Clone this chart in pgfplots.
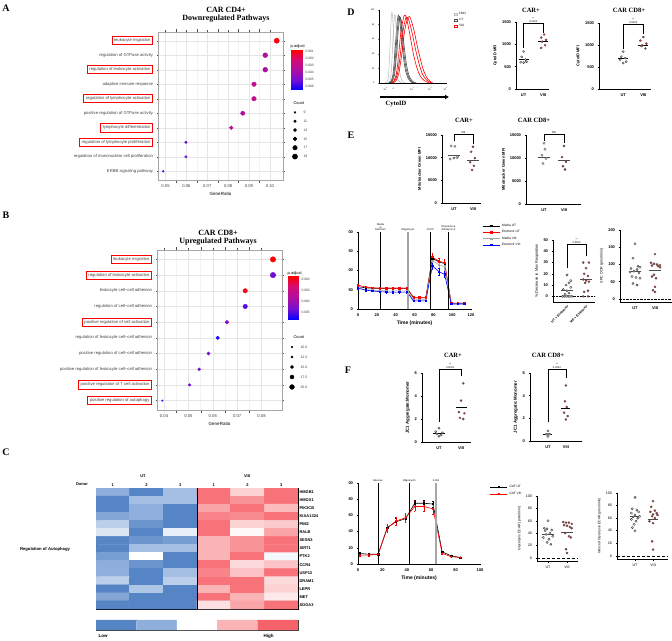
\documentclass[border=0pt]{standalone}
\usepackage{pgfplots}
\pgfplotsset{compat=1.18}
\usepackage{fontspec}
\setmainfont{Liberation Sans}
\newfontfamily\tnr{Liberation Serif}
\usetikzlibrary{arrows.meta}
\newcommand\fs[1]{\fontsize{#1}{#1}\selectfont}
\setlength{\fboxsep}{1.8pt}
\setlength{\fboxrule}{0.8pt}
\newcommand\rb[1]{\fcolorbox{red}{white}{#1}}
\definecolor{hb1}{RGB}{85,133,197}
\definecolor{hb2}{RGB}{142,174,220}
\definecolor{hr1}{RGB}{250,180,182}
\definecolor{hr2}{RGB}{246,98,106}
\definecolor{v8red}{RGB}{200,50,55}
% p.adjust colours (red = low, blue = high)
\definecolor{pa01}{RGB}{253,0,16}
\definecolor{pa37}{RGB}{193,15,140}
\definecolor{pa41}{RGB}{186,15,149}
\definecolor{pa46}{RGB}{176,15,160}
\definecolor{pa48}{RGB}{172,15,164}
\definecolor{pa77}{RGB}{106,15,218}
\definecolor{pa95}{RGB}{42,10,247}
\definecolor{pb88}{RGB}{71,12,236}
\definecolor{pb75}{RGB}{111,15,214}
\definecolor{pb70}{RGB}{124,15,206}
\definecolor{pb73}{RGB}{116,15,211}
\definecolor{pb98}{RGB}{24,8,252}
\definecolor{pb65}{RGB}{136,15,197}
\definecolor{pb83}{RGB}{88,12,228}
\definecolor{pb03}{RGB}{250,3,31}

\pgfplotsset{
  /pgf/number format/assume math mode=true,
  /pgf/number format/1000 sep={},
  gg/.style={scale only axis, clip=false, scaled x ticks=false, scaled y ticks=false,
    axis line style={gray!70, line width=0.5pt},
    grid=both, major grid style={gray!20, line width=0.4pt},
    minor grid style={gray!10, line width=0.3pt}, minor x tick num=1,
    tick align=outside, major tick length=1.5pt, tick style={gray!60!black},
    ticklabel style={font=\fs{4.2}, text=black!75},
    ytick={1,...,10}, ymin=0.4, ymax=10.6,
    xlabel style={font=\fs{4.5}, yshift=3pt}},
  cbar/.style={scale only axis, clip=false, scaled y ticks=false, xmin=0, xmax=1, y dir=reverse,
    xtick=\empty, axis line style={draw=none}, major tick length=0pt,
    yticklabel pos=right, ticklabel style={font=\fs{3.3}, text=black!75},
    colormap={rb}{rgb255=(255,0,0) rgb255=(210,12,120) rgb255=(175,15,160) rgb255=(115,15,212) rgb255=(0,0,255)}},
  leg/.style={scale only axis, clip=false, xmin=0, xmax=1, y dir=reverse,
    xtick=\empty, axis line style={draw=none}, major tick length=0pt,
    yticklabel pos=right, ticklabel style={font=\fs{3.5}, text=black!75}},
  gdot/.style={only marks, mark=*},
  pz/.style={scale only axis, clip=false, scaled y ticks=false, axis x line*=bottom, axis y line*=left,
    axis line style={line width=0.6pt}, tick align=outside, major tick length=1.5pt,
    tick style={line width=0.5pt, black}, ticklabel style={font=\bfseries\fs{4}},
    ylabel style={font=\bfseries\fs{4}, yshift=-2pt}, xtick={1,2}, xticklabels={UT,VIII}, ymin=0},
  ut/.style={only marks, mark=*, mark size=1.1pt, mark options={fill=gray!35, draw=black!80, line width=0.3pt}},
  v8/.style={only marks, mark=*, mark size=1.1pt, mark options={fill=v8red, draw=black!70, line width=0.3pt}},
  mn/.style={black, line width=0.5pt},
  br/.style={black, line width=0.6pt},
  sh/.style={line width=0.6pt, mark size=0.7pt},
  eb/.style={/pgfplots/error bars/y dir=both, /pgfplots/error bars/y explicit,
    /pgfplots/error bars/error bar style={line width=0.4pt}},
}

\begin{document}
\begin{tikzpicture}
\path[use as bounding box] (0,0) rectangle (672pt,640pt);

% ---------------- A ----------------
\node[font=\tnr\bfseries\fs{10}] at (6pt,632pt) {A};
\node[font=\tnr\bfseries\fs{8}, align=center] at (226pt,625pt) {CAR CD4+\\Downregulated Pathways};
\begin{axis}[gg, at={(158pt,460pt)}, width=125pt, height=148pt,
  xmin=0.0464, xmax=0.1063, xtick={0.05,0.06,0.07,0.08,0.09,0.10},
  xticklabels={0.05,0.06,0.07,0.08,0.09,0.10}, xlabel={GeneRatio},
  yticklabels={ERBB signaling pathway, regulation of mononuclear cell proliferation,
    {\rb{regulation of lymphocyte proliferation}}, {\rb{lymphocyte differentiation}},
    positive regulation of GTPase activity, {\rb{regulation of lymphocyte activation}},
    adaptive immune response, {\rb{regulation of leukocyte activation}},
    regulation of GTPase activity, {\rb{leukocyte migration}}}]
% GeneRatio, row; colour from p.adjust, size from Count
\addplot[gdot, mark size=0.90pt, pa95] coordinates {(0.0489,1)};
\addplot[gdot, mark size=1.24pt, pa77] coordinates {(0.0598,2)};
\addplot[gdot, mark size=1.24pt, pa77] coordinates {(0.0598,3)};
\addplot[gdot, mark size=1.92pt, pa41] coordinates {(0.0815,4)};
\addplot[gdot, mark size=2.09pt, pa46] coordinates {(0.0870,5)};
\addplot[gdot, mark size=2.26pt, pa37] coordinates {(0.0924,6)};
\addplot[gdot, mark size=2.26pt, pa37] coordinates {(0.0924,7)};
\addplot[gdot, mark size=2.43pt, pa48] coordinates {(0.0978,8)};
\addplot[gdot, mark size=2.43pt, pa48] coordinates {(0.0978,9)};
\addplot[gdot, mark size=2.60pt, pa01] coordinates {(0.1033,10)};
\end{axis}
\node[font=\fs{4}, anchor=south west, inner sep=0.5pt] at (290pt,591pt) {p.adjust};
\begin{axis}[cbar, at={(291pt,550pt)}, width=11pt, height=40pt, ymin=0.00076, ymax=0.0065,
  ytick={0.001,0.002,0.003,0.004,0.005,0.006}, yticklabels={0.001,0.002,0.003,0.004,0.005,0.006}]
\addplot[surf, shader=interp, mesh/rows=2, point meta=y] coordinates {(0,0.00076) (1,0.00076) (0,0.0065) (1,0.0065)};
\end{axis}
\node[font=\fs{4}, anchor=west] at (290pt,537pt) {Count};
\begin{axis}[leg, at={(290pt,479pt)}, width=10pt, height=53pt, ymin=0.5, ymax=6.5,
  ytick={1,...,6}, yticklabels={9,11,13,15,17,19}]
\addplot[gdot, black, mark size=0.9pt] coordinates {(0.5,1)};
\addplot[gdot, black, mark size=1.24pt] coordinates {(0.5,2)};
\addplot[gdot, black, mark size=1.58pt] coordinates {(0.5,3)};
\addplot[gdot, black, mark size=1.92pt] coordinates {(0.5,4)};
\addplot[gdot, black, mark size=2.26pt] coordinates {(0.5,5)};
\addplot[gdot, black, mark size=2.6pt] coordinates {(0.5,6)};
\end{axis}

% ---------------- B ----------------
\node[font=\tnr\bfseries\fs{10}] at (6pt,425pt) {B};
\node[font=\tnr\bfseries\fs{8}, align=center] at (218pt,402pt) {CAR CD8+\\Upregulated Pathways};
\begin{axis}[gg, at={(157pt,230pt)}, width=125pt, height=160pt,
  xmin=0.0371, xmax=0.0884, xtick={0.04,0.05,0.06,0.07,0.08},
  xticklabels={0.04,0.05,0.06,0.07,0.08}, xlabel={GeneRatio},
  yticklabels={{\rb{positive regulation of autophagy}}, {\rb{positive regulation of T cell activation}},
    positive regulation of leukocyte cell−cell adhesion, positive regulation of cell−cell adhesion,
    regulation of leukocyte cell−cell adhesion, {\rb{positive regulation of cell activation}},
    regulation of cell−cell adhesion, leukocyte cell−cell adhesion,
    {\rb{regulation of leukocyte activation}}, {\rb{leukocyte migration}}}]
\addplot[gdot, mark size=0.80pt, pb88] coordinates {(0.0393,1)};
\addplot[gdot, mark size=1.28pt, pb75] coordinates {(0.0505,2)};
\addplot[gdot, mark size=1.44pt, pb70] coordinates {(0.0544,3)};
\addplot[gdot, mark size=1.60pt, pb73] coordinates {(0.0582,4)};
\addplot[gdot, mark size=1.76pt, pb98] coordinates {(0.0620,5)};
\addplot[gdot, mark size=1.92pt, pb65] coordinates {(0.0658,6)};
\addplot[gdot, mark size=2.24pt, pb83] coordinates {(0.0733,7)};
\addplot[gdot, mark size=2.24pt, pb03] coordinates {(0.0733,8)};
\addplot[gdot, mark size=2.72pt, pb75] coordinates {(0.0847,9)};
\addplot[gdot, mark size=2.72pt, red] coordinates {(0.0847,10)};
\end{axis}
\node[font=\fs{4}, anchor=south west, inner sep=0.5pt] at (287pt,364pt) {p.adjust};
\begin{axis}[cbar, at={(288pt,320pt)}, width=10pt, height=44pt, ymin=0.0017, ymax=0.0057,
  ytick={0.002,0.003,0.004,0.005}, yticklabels={0.002,0.003,0.004,0.005}]
\addplot[surf, shader=interp, mesh/rows=2, point meta=y] coordinates {(0,0.0017) (1,0.0017) (0,0.0057) (1,0.0057)};
\end{axis}
\node[font=\fs{4}, anchor=west] at (290pt,303pt) {Count};
\begin{axis}[leg, at={(287pt,248pt)}, width=10pt, height=50pt, ymin=0.5, ymax=5.5,
  ytick={1,...,5}, yticklabels={10.0,12.5,15.0,17.5,20.0}]
\addplot[gdot, black, mark size=0.8pt] coordinates {(0.5,1)};
\addplot[gdot, black, mark size=1.2pt] coordinates {(0.5,2)};
\addplot[gdot, black, mark size=1.6pt] coordinates {(0.5,3)};
\addplot[gdot, black, mark size=2.0pt] coordinates {(0.5,4)};
\addplot[gdot, black, mark size=2.4pt] coordinates {(0.5,5)};
\end{axis}

% ---------------- C ----------------
\node[font=\tnr\bfseries\fs{10}] at (6pt,188pt) {C};
\node[font=\bfseries\fs{4}] at (143pt,164pt) {UT};
\node[font=\bfseries\fs{4}] at (247pt,164pt) {VIII};
\node[font=\bfseries\fs{4}] at (82pt,156pt) {Donor};
\node[font=\bfseries\fs{4.2}] at (45pt,91pt) {Regulation of Autophagy};
\begin{axis}[scale only axis, at={(96pt,31pt)}, width=202pt, height=121pt, enlargelimits=false,
  xmin=0.5, xmax=6.5, ymin=0.5, ymax=15.5, y dir=reverse,
  axis line style={black, line width=0.6pt},
  xtick={1,...,6}, xticklabels={1,2,3,1,2,3}, xticklabel pos=upper,
  ytick={1,...,15}, yticklabel pos=right,
  yticklabels={HMGB1,HMOX1,PIK3CB,KIAA1324,PIM2,RALB,SESN3,SIRT1,PTK2,CCR4,USP13,DRAM1,LEPR,MET,SOGA3},
  tick style={draw=none}, ticklabel style={font=\bfseries\fs{4}},
  xticklabel style={yshift=-2pt}, yticklabel style={xshift=-2pt},
  colormap={heat}{rgb255=(85,133,197) rgb255=(142,174,220) rgb255=(255,255,255) rgb255=(250,180,182) rgb255=(246,98,106)},
  point meta min=-2, point meta max=2]
\addplot[matrix plot*, mesh/cols=6, point meta=explicit] table[meta=c, row sep=\\]{x y c\\
1 1 -1.0\\ 2 1 -2\\ 3 1 -0.8\\ 4 1 1.8\\ 5 1 0.6\\ 6 1 1.8\\
1 2 -2\\ 2 2 -0.8\\ 3 2 -0.8\\ 4 2 1.8\\ 5 2 1.4\\ 6 2 1.8\\
1 3 -2\\ 2 3 -1.0\\ 3 3 -2\\ 4 3 1.2\\ 5 3 1.8\\ 6 3 0.9\\
1 4 -1.2\\ 2 4 -1.0\\ 3 4 -2\\ 4 4 1.6\\ 5 4 1.5\\ 6 4 1.8\\
1 5 -0.6\\ 2 5 -1.6\\ 3 5 -2\\ 4 5 1.8\\ 5 5 0.6\\ 6 5 0.7\\
1 6 -0.3\\ 2 6 -2\\ 3 6 -0.2\\ 4 6 1.8\\ 5 6 0.1\\ 6 6 1.2\\
1 7 -2\\ 2 7 -1.6\\ 3 7 -1.4\\ 4 7 1.0\\ 5 7 1.4\\ 6 7 1.8\\
1 8 -2\\ 2 8 -0.8\\ 3 8 -0.8\\ 4 8 1.0\\ 5 8 1.4\\ 6 8 1.8\\
1 9 -1.4\\ 2 9 0\\ 3 9 -2\\ 4 9 1.0\\ 5 9 1.8\\ 6 9 -0.1\\
1 10 -1.0\\ 2 10 -1.6\\ 3 10 -2\\ 4 10 1.8\\ 5 10 0.5\\ 6 10 0.8\\
1 11 -1.0\\ 2 11 -2\\ 3 11 -0.8\\ 4 11 1.6\\ 5 11 0.8\\ 6 11 1.8\\
1 12 -0.6\\ 2 12 -2\\ 3 12 -0.6\\ 4 12 1.8\\ 5 12 1.8\\ 6 12 0.5\\
1 13 -2\\ 2 13 -0.7\\ 3 13 -2\\ 4 13 1.0\\ 5 13 1.8\\ 6 13 0.6\\
1 14 -1.2\\ 2 14 -2\\ 3 14 -2\\ 4 14 1.8\\ 5 14 1.0\\ 6 14 0.3\\
1 15 -2\\ 2 15 -2\\ 3 15 -2\\ 4 15 0.4\\ 5 15 1.2\\ 6 15 1.8\\};
\addplot[black, line width=0.8pt] coordinates {(3.5,0.5) (3.5,15.5)};
\end{axis}
\begin{axis}[scale only axis, at={(96pt,10pt)}, width=202pt, height=10pt, xmin=0, xmax=5, ymin=0, ymax=1,
  ticks=none, axis line style={gray!50!black, line width=0.6pt}]
\addplot[fill=hb1, draw=none] coordinates {(0,0) (1,0) (1,1) (0,1)} \closedcycle;
\addplot[fill=hb2, draw=none] coordinates {(1,0) (2,0) (2,1) (1,1)} \closedcycle;
\addplot[fill=white, draw=none] coordinates {(2,0) (3,0) (3,1) (2,1)} \closedcycle;
\addplot[fill=hr1, draw=none] coordinates {(3,0) (4,0) (4,1) (3,1)} \closedcycle;
\addplot[fill=hr2, draw=none] coordinates {(4,0) (5,0) (5,1) (4,1)} \closedcycle;
\end{axis}
\node[font=\bfseries\fs{4.5}, anchor=west] at (95pt,4pt) {Low};
\node[font=\bfseries\fs{4.5}, anchor=west] at (260pt,4pt) {High};

% ---------------- D ----------------
\node[font=\tnr\bfseries\fs{10}] at (351pt,628pt) {D};
\begin{axis}[scale only axis, at={(379pt,557pt)}, width=68pt, height=73pt,
  xmin=0, xmax=100, ymin=0, ymax=100, axis x line*=bottom, axis y line*=left,
  axis line style={line width=0.4pt}, tick align=outside, major tick length=1pt,
  ytick={0,20,...,100}, xtick={9,21,49,75,98},
  xticklabels={-10\textsuperscript{3},0,10\textsuperscript{3},10\textsuperscript{4},10\textsuperscript{5}},
  ticklabel style={font=\fs{2.2}},
  legend style={at={(1.1,1.0)}, anchor=north west, draw=none, fill=none, font=\tnr\fs{3.2},
    row sep=-1.5pt, inner sep=0pt}, legend cell align=left,
  legend image code/.code={\draw[#1, line width=0.4pt] (0pt,-1.3pt) rectangle (2.6pt,1.3pt);}]
\addplot[gray!55, line width=0.5pt, smooth, tension=0.5] coordinates {(8,0)(12,2)(14,10)(16,45)(17.5,80)(19,97)(20.5,85)(22,55)(24,25)(26,10)(29,3)(33,0)};
\addlegendentry{FMO}
\addplot[black!70, line width=0.6pt, smooth, tension=0.5] coordinates {(14,0)(18,3)(21,15)(24,50)(26.5,82)(28.5,93)(30.5,86)(33,62)(36,35)(39,17)(43,6)(48,1)(52,0)};
\addlegendentry{UT}
\addplot[red, line width=0.6pt, smooth, tension=0.5] coordinates {(17,0)(22,3)(26,15)(29,40)(32,68)(35,85)(37.5,93)(40,90)(43,78)(47,58)(51,38)(56,20)(61,9)(67,3)(74,0)};
\addlegendentry{VIII}
\addplot[gray!55, line width=0.5pt, smooth, tension=0.5, forget plot] coordinates {(12,0)(16,3)(18,15)(20,50)(22,85)(23.5,94)(25,80)(27,50)(29,25)(32,8)(36,1)(40,0)};
\addplot[black!70, line width=0.6pt, smooth, tension=0.5, forget plot] coordinates {(15,0)(19,3)(22,14)(25,45)(27.5,78)(29.5,91)(31.5,88)(34,66)(37,38)(40,19)(44,7)(49,1)(53,0)};
\addplot[black!70, line width=0.6pt, smooth, tension=0.5, forget plot] coordinates {(16,0)(20,3)(23,13)(26,42)(28.5,74)(30.5,89)(32.5,87)(35,68)(38,42)(41,22)(45,8)(50,2)(55,0)};
\addplot[red, line width=0.6pt, smooth, tension=0.5, forget plot] coordinates {(18,0)(23,3)(27,12)(31,36)(34,62)(37,80)(40,90)(43,88)(46,79)(50,63)(54,45)(59,26)(64,12)(70,4)(77,0)};
\addplot[red, line width=0.6pt, smooth, tension=0.5, forget plot] coordinates {(20,0)(25,3)(29,13)(33,36)(36,60)(39,78)(42,88)(45,91)(48,84)(52,70)(56,52)(61,32)(66,16)(72,5)(79,0)};
\end{axis}
\draw[-{Latex[length=4pt,width=5pt]}, line width=1.5pt] (380pt,543pt) -- (449pt,543pt);
\node[font=\tnr\bfseries\fs{6.5}] at (396pt,536pt) {CytoID};

\node[font=\tnr\bfseries\fs{6.5}] at (531pt,630pt) {CAR+};
\begin{axis}[pz, at={(516pt,551pt)}, width=33pt, height=67pt, xmin=0.61, xmax=2.3, ymax=1500,
  ytick={0,500,1000,1500}, ylabel={CytoID MFI}]
\addplot[ut] coordinates {(1,840)(0.9,720)(1.1,660)(0.85,600)(1.0,590)(1.15,610)};
\addplot[v8] coordinates {(2.05,1220)(1.9,1150)(2.15,1100)(1.95,1060)(2.1,980)(1.9,920)};
\addplot[mn] coordinates {(0.75,670)(1.25,670)};
\addplot[mn] coordinates {(1.75,1072)(2.25,1072)};
\addplot[br] coordinates {(1,920)(1,1480)(2,1480)(2,1260)};
\node[font=\fs{2.6}, align=center, anchor=south, inner sep=0.5pt] at (axis cs:1.5,1480) {**\\0.0022};
\end{axis}

\node[font=\tnr\bfseries\fs{6.5}] at (629pt,630pt) {CAR CD8+};
\begin{axis}[pz, at={(599pt,551pt)}, width=52pt, height=66pt, xmin=-0.2, xmax=2.38, ymax=1500,
  ytick={0,500,1000,1500}, ylabel={CytoID MFI}]
\addplot[ut] coordinates {(1,850)(0.9,735)(1.1,700)(0.85,665)(1.15,620)(1,590)};
\addplot[v8] coordinates {(2.0,1180)(1.85,1100)(2.15,1030)(1.95,990)(2.1,920)(1.9,980)};
\addplot[mn] coordinates {(0.75,700)(1.25,700)};
\addplot[mn] coordinates {(1.75,1000)(2.25,1000)};
\addplot[br] coordinates {(1,900)(1,1480)(2,1480)(2,1250)};
\node[font=\fs{2.6}, align=center, anchor=south, inner sep=0.5pt] at (axis cs:1.5,1480) {**\\0.0002};
\end{axis}

% ---------------- E ----------------
\node[font=\tnr\bfseries\fs{10}] at (351pt,505pt) {E};
\node[font=\tnr\bfseries\fs{6.5}] at (464pt,520pt) {CAR+};
\node[font=\tnr\bfseries\fs{6.5}] at (534pt,520pt) {CAR CD8+};
\begin{axis}[pz, at={(442pt,437pt)}, width=39pt, height=68pt, xmin=0.37, xmax=2.42, ymax=15000,
  ytick={0,5000,10000,15000}, ylabel={Mitotracker Green MFI},
  ut/.append style={mark options={fill=white, draw=gray!60!black}}]
\addplot[ut] coordinates {(0.85,12600)(1.05,12500)(0.8,9700)(1.0,9900)(1.15,10000)(1.2,10200)};
\addplot[v8] coordinates {(2.0,12400)(1.9,11300)(2.1,9900)(1.85,9000)(2.05,8200)(1.95,7300)};
\addplot[mn, gray!60!black] coordinates {(0.7,10550)(1.3,10550)};
\addplot[mn, gray!60!black] coordinates {(1.7,9500)(2.3,9500)};
\addplot[br] coordinates {(1,13600)(1,15100)(2,15100)(2,13000)};
\node[font=\fs{3.5}, anchor=south, inner sep=0.5pt] at (axis cs:1.5,15100) {ns};
\end{axis}
\begin{axis}[pz, at={(526pt,436pt)}, width=55pt, height=69pt, xmin=0.1, xmax=2.85, ymax=15000,
  ytick={0,5000,10000,15000}, ylabel={Mitotracker Green MFI},
  ut/.append style={mark options={fill=white, draw=gray!60!black}}]
\addplot[ut] coordinates {(1,13200)(1.05,11900)(0.9,10600)(1.1,9900)(0.95,8800)};
\addplot[v8] coordinates {(2.0,12600)(1.9,10200)(2.1,9150)(1.95,8200)(2.05,7500)};
\addplot[mn, gray!60!black] coordinates {(0.7,10250)(1.3,10250)};
\addplot[mn, gray!60!black] coordinates {(1.7,9440)(2.3,9440)};
\addplot[br] coordinates {(1,13800)(1,15100)(2,15100)(2,13300)};
\node[font=\fs{3.5}, anchor=south, inner sep=0.5pt] at (axis cs:1.5,15100) {ns};
\end{axis}

\begin{axis}[pz, at={(358pt,331pt)}, width=113pt, height=77pt, xmin=0, xmax=120, ymax=200,
  xtick={0,20,...,120}, ytick={0,50,100,150,200}, yticklabels={0,50,00,50,00},
  xticklabels={0,20,40,60,80,100,120},
  xlabel={Time (minutes)}, xlabel style={font=\bfseries\fs{5}, yshift=3pt},
  legend style={at={(1.1,1.13)}, anchor=north west, draw=none, fill=none, font=\fs{3.2},
    row sep=-1.5pt, inner sep=0pt}, legend cell align=left]
\addplot[sh, black, mark=square*, eb] coordinates {(0,58)+-(0,2) (8,55)+-(0,2) (15,54)+-(0,2) (23,54)+-(0,2) (30,54)+-(0,2) (37,54)+-(0,2) (44,54)+-(0,2) (52,54)+-(0,2) (59,29)+-(0,2) (65,29)+-(0,2) (72,29)+-(0,2) (79,132)+-(0,10) (86,122)+-(0,9) (92,118)+-(0,9) (99,14)+-(0,1) (106,14)+-(0,1) (113,14)+-(0,1)};
\addlegendentry{Media UT}
\addplot[sh, red, mark=square*, eb] coordinates {(0,62)+-(0,2) (8,57)+-(0,2) (15,55)+-(0,2) (23,54)+-(0,2) (30,54)+-(0,2) (37,54)+-(0,2) (44,54)+-(0,2) (52,54)+-(0,2) (59,30)+-(0,2) (65,30)+-(0,2) (72,30)+-(0,2) (79,135)+-(0,10) (86,124)+-(0,9) (92,120)+-(0,9) (99,15)+-(0,1) (106,15)+-(0,1) (113,15)+-(0,1)};
\addlegendentry{Etomoxir UT}
\addplot[sh, gray!70, mark=square*, eb] coordinates {(0,55)+-(0,2) (8,50)+-(0,2) (15,49)+-(0,2) (23,48)+-(0,2) (30,47)+-(0,2) (37,47)+-(0,2) (44,47)+-(0,2) (52,47)+-(0,2) (59,24)+-(0,2) (65,24)+-(0,2) (72,24)+-(0,2) (79,125)+-(0,9) (86,115)+-(0,8) (92,110)+-(0,8) (99,14)+-(0,1) (106,14)+-(0,1) (113,14)+-(0,1)};
\addlegendentry{Media VIII}
\addplot[sh, blue, mark=square*, eb] coordinates {(0,54)+-(0,2) (8,49)+-(0,2) (15,47)+-(0,2) (23,45)+-(0,2) (30,44)+-(0,2) (37,44)+-(0,2) (44,44)+-(0,2) (52,44)+-(0,2) (59,21)+-(0,2) (65,21)+-(0,2) (72,21)+-(0,2) (79,112)+-(0,8) (86,97)+-(0,8) (92,90)+-(0,7) (99,13)+-(0,1) (106,13)+-(0,1) (113,13)+-(0,1)};
\addlegendentry{Etomoxir VIII}
\addplot[black, line width=0.6pt, mark=none, forget plot] coordinates {(24,0)(24,200)};
\addplot[gray!70, line width=1.2pt, mark=none, forget plot] coordinates {(53,0)(53,200)};
\addplot[black, line width=0.6pt, mark=none, forget plot] coordinates {(77,0)(77,200)};
\addplot[black, line width=0.6pt, mark=none, forget plot] coordinates {(96,0)(96,200)};
\node[font=\fs{2.6}, align=center, anchor=south, inner sep=1pt] at (axis cs:24,200) {Media\\or\\Etomoxir};
\node[font=\fs{2.6}, anchor=south, inner sep=1pt] at (axis cs:53,200) {Oligomycin};
\node[font=\fs{2.6}, anchor=south, inner sep=1pt] at (axis cs:77,200) {FCCP};
\node[font=\fs{2.6}, align=center, anchor=south, inner sep=1pt] at (axis cs:96,200) {Rotenone \&\\Antimycin A};
\end{axis}

\begin{axis}[pz, at={(553pt,338pt)}, width=42pt, height=62pt, xmin=0.26, xmax=2.47, ymin=-5, ymax=50,
  ytick={0,10,...,50}, ylabel={\% Decrease in Max Respiration}, ylabel style={font=\fs{3.8}},
  xticklabels={UT + Etomoxir, VIII + Etomoxir},
  xticklabel style={rotate=45, anchor=north east, font=\bfseries\fs{3.4}, inner sep=1pt},
  ut/.append style={mark options={fill=white, draw=black!80}}]
\addplot[black, densely dotted, line width=0.4pt] coordinates {(0.26,0)(2.47,0)};
\addplot[ut] coordinates {(0.75,0)(0.85,0)(0.95,0)(1.05,0)(1.15,0)(1.25,0)(0.9,2)(1.1,3)(1.0,5)(0.8,6)(1.2,8)(0.95,10)(1.1,12)(1.2,14)(1.0,19)};
\addplot[v8] coordinates {(1.85,30)(2.15,30)(2.0,25)(1.9,20)(2.1,18)(1.85,15)(2.0,14)(2.15,13)(1.95,12)(2.1,5)(1.9,4)(1.85,0)(2.1,0)};
\addplot[mn, gray!60!black] coordinates {(0.7,5)(1.3,5)};
\addplot[mn, gray!60!black] coordinates {(1.7,15)(2.3,15)};
\addplot[br] coordinates {(1,25)(1,46.4)(2,46.4)(2,36)};
\node[font=\fs{2.6}, align=center, anchor=south, inner sep=0.5pt] at (axis cs:1.5,46.4) {**\\0.0006};
\end{axis}

\begin{axis}[pz, at={(620pt,338pt)}, width=52pt, height=72pt, xmin=0.25, xmax=2.85, ymin=-9, ymax=200,
  ytick={0,50,...,200}, ylabel={SRC OCR (pmol/min)}, ylabel style={font=\fs{3.6}},
  ut/.append style={mark options={fill=white, draw=black!80}}]
\addplot[black, densely dotted, line width=0.4pt] coordinates {(0.25,0)(2.85,0)};
\addplot[ut] coordinates {(1.0,160)(0.9,118)(1.15,95)(1.25,92)(0.8,88)(1.1,85)(0.95,80)(0.75,78)(1.2,75)(0.85,65)(1.05,62)(1.25,60)(0.9,45)(1.1,40)};
\addplot[v8] coordinates {(2.0,130)(1.8,105)(1.95,102)(2.1,100)(2.25,98)(1.85,97)(2.15,95)(2.25,92)(1.95,70)(1.85,65)(2.05,60)(2.0,35)(1.9,25)(2.0,20)};
\addplot[mn, gray!60!black] coordinates {(0.7,80)(1.3,80)};
\addplot[mn, gray!60!black] coordinates {(1.7,82)(2.3,82)};
\end{axis}

% ---------------- F ----------------
\node[font=\tnr\bfseries\fs{10}] at (348pt,270pt) {F};
\node[font=\tnr\bfseries\fs{6.5}] at (453pt,285pt) {CAR+};
\node[font=\tnr\bfseries\fs{6.5}] at (548pt,285pt) {CAR CD8+};
\begin{axis}[pz, at={(422pt,198pt)}, width=49pt, height=69pt, xmin=0.23, xmax=2.45, ymax=6,
  ytick={0,2,4,6}, ylabel={JC1 Aggregate:Monomer}, ylabel style={font=\bfseries\fs{4.4}}]
\addplot[ut] coordinates {(1.0,1.2)(0.85,0.9)(1.15,0.8)(0.9,0.7)(1.1,0.6)(1.0,0.5)};
\addplot[v8] coordinates {(2.1,5.1)(2.0,3.6)(1.9,2.6)(2.15,2.5)(1.95,2.1)(2.1,2.0)};
\addplot[mn] coordinates {(0.75,0.75)(1.25,0.75)};
\addplot[mn] coordinates {(1.75,3.0)(2.25,3.0)};
\addplot[br] coordinates {(1,1.76)(1,6.35)(2,6.35)(2,5.7)};
\node[font=\fs{2.6}, align=center, anchor=south, inner sep=0.5pt] at (axis cs:1.5,6.35) {**\\0.0033};
\end{axis}
\begin{axis}[pz, at={(530pt,199pt)}, width=52pt, height=68pt, xmin=0, xmax=2.9, ymax=6,
  ytick={0,2,4,6}, ylabel={JC1 Aggregate:Monomer}, ylabel style={font=\bfseries\fs{4.4}}]
\addplot[ut] coordinates {(1,0.9)(0.9,0.6)(1.1,0.6)(1.0,0.4)(1.0,0.6)};
\addplot[v8] coordinates {(2.0,4.9)(1.95,3.5)(2.05,3.0)(1.9,2.5)(2.1,2.2)(2.0,1.9)};
\addplot[mn] coordinates {(0.75,0.6)(1.25,0.6)};
\addplot[mn] coordinates {(1.75,2.9)(2.25,2.9)};
\addplot[br] coordinates {(1,1.7)(1,6.35)(2,6.35)(2,5.6)};
\node[font=\fs{2.6}, align=center, anchor=south, inner sep=0.5pt] at (axis cs:1.5,6.35) {**\\0.0033};
\end{axis}

\begin{axis}[pz, at={(358pt,76pt)}, width=122pt, height=81pt, xmin=0, xmax=100, ymax=100,
  xtick={0,20,...,100}, xticklabels={0,20,40,60,80,100}, ytick={0,20,...,100}, yticklabels={0,20,40,60,80,00},
  xlabel={Time (minutes)}, xlabel style={font=\bfseries\fs{5}, yshift=3pt},
  legend style={at={(1.08,1.0)}, anchor=north west, draw=none, fill=none, font=\fs{3.2},
    row sep=-1pt, inner sep=0pt}, legend cell align=left]
\addplot[sh, black, mark=square*, eb] coordinates {(1.5,13)+-(0,1) (9,12)+-(0,1) (16.5,12)+-(0,1) (24,45)+-(0,4) (31,52)+-(0,4) (39,56)+-(0,5) (46.5,75)+-(0,4) (54,75)+-(0,4) (61.5,74)+-(0,4) (69,15)+-(0,1) (76.5,10)+-(0,1) (84,8)+-(0,1)};
\addlegendentry{CAT UT}
\addplot[sh, red, mark=*, eb] coordinates {(1.5,11)+-(0,1) (9,11)+-(0,1) (16.5,12)+-(0,1) (24,44)+-(0,5) (31,53)+-(0,5) (39,57)+-(0,6) (46.5,71)+-(0,6) (54,71)+-(0,6) (61.5,68)+-(0,6) (69,13)+-(0,1) (76.5,9)+-(0,1) (84,8)+-(0,1)};
\addlegendentry{CAT VIII}
\addplot[black, line width=0.6pt, mark=none, forget plot] coordinates {(16.3,0)(16.3,100)};
\addplot[black, line width=0.6pt, mark=none, forget plot] coordinates {(42,0)(42,100)};
\addplot[gray!70, line width=1.6pt, mark=none, forget plot] coordinates {(64,0)(64,100)};
\node[font=\fs{2.6}, anchor=south, inner sep=1pt] at (axis cs:16.3,100) {Glucose};
\node[font=\fs{2.6}, anchor=south, inner sep=1pt] at (axis cs:42,100) {Oligomycin};
\node[font=\fs{2.6}, anchor=south, inner sep=1pt] at (axis cs:64,100) {2-DG};
\end{axis}

\begin{axis}[pz, at={(537pt,79pt)}, width=41pt, height=65pt, xmin=0.42, xmax=2.58, ymin=-5, ymax=100,
  ytick={0,20,...,100}, ylabel={Glycolysis ECAR (pmol/min)}, ylabel style={font=\fs{3.5}},
  ticklabel style={font=\fs{3.6}},
  ut/.append style={mark options={fill=white, draw=black!80}}]
\addplot[black, densely dashed, line width=0.4pt] coordinates {(0.42,0)(2.58,0)};
\addplot[ut] coordinates {(1.0,60)(0.8,48)(0.95,47)(1.2,45)(0.85,44)(1.1,40)(0.9,38)(1.25,35)(0.75,33)(1.05,30)(0.95,25)(1.15,22)};
\addplot[v8] coordinates {(1.8,58)(1.95,57)(2.1,57)(2.25,55)(1.85,53)(2.0,52)(2.15,50)(2.25,48)(1.9,40)(2.1,35)(2.2,33)(1.95,14)(2.0,8)};
\addplot[mn, gray!60!black] coordinates {(0.7,38)(1.3,38)};
\addplot[mn, gray!60!black] coordinates {(1.7,41)(2.3,41)};
\end{axis}

\begin{axis}[pz, at={(617pt,81pt)}, width=51pt, height=66pt, xmin=0, xmax=2.83, ymin=-5, ymax=100,
  ytick={0,20,...,100}, ylabel={Induced Glycolysis ECAR (pmol/min)}, ylabel style={font=\fs{3.4}},
  ticklabel style={font=\fs{3.6}},
  ut/.append style={mark options={fill=white, draw=black!80}}]
\addplot[black, densely dashed, line width=0.4pt] coordinates {(0,0)(2.83,0)};
\addplot[ut] coordinates {(1.0,93)(0.85,75)(1.1,73)(1.2,70)(0.8,68)(1.0,65)(1.25,63)(0.9,62)(1.15,60)(0.8,58)(1.05,55)(0.95,50)(0.85,45)(1.0,40)};
\addplot[v8] coordinates {(2.0,87)(1.9,78)(2.1,72)(1.85,70)(2.2,68)(2.0,66)(2.25,65)(1.95,63)(2.1,60)(1.8,55)(2.0,52)(1.95,23)(2.0,10)};
\addplot[mn, gray!60!black] coordinates {(0.7,63)(1.3,63)};
\addplot[mn, gray!60!black] coordinates {(1.7,59)(2.3,59)};
\end{axis}
\end{tikzpicture}
\end{document}
